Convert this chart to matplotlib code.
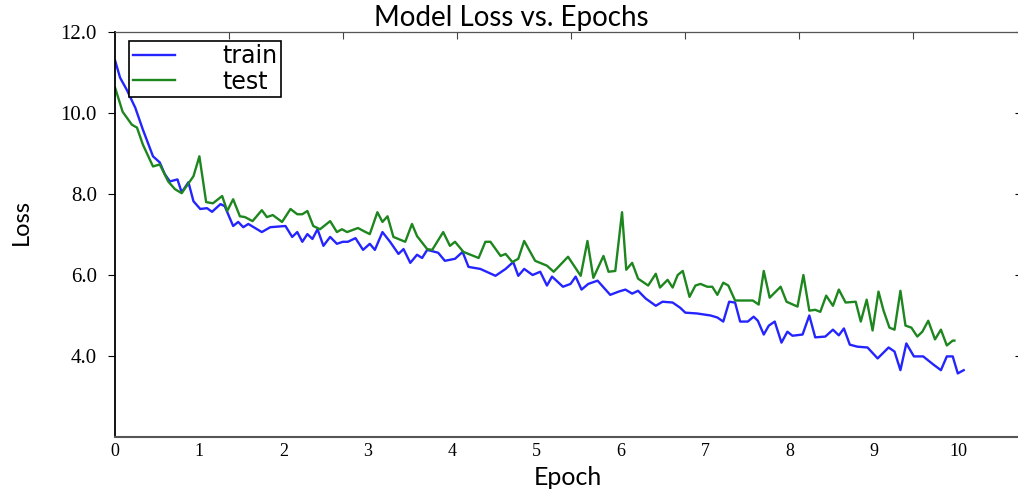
import numpy as np
import matplotlib
matplotlib.use("Agg")
import matplotlib.pyplot as plt

# epoch / loss
train_epoch = [0.0, 0.06, 0.14, 0.24, 0.33, 0.45, 0.53, 0.59, 0.65, 0.74, 0.79, 0.87, 0.93,
               1.01, 1.09, 1.15, 1.25, 1.30, 1.40, 1.46, 1.52, 1.58, 1.74, 1.84, 2.02, 2.10,
               2.16, 2.22, 2.28, 2.34, 2.40, 2.47, 2.55, 2.63, 2.70, 2.76, 2.85, 2.94, 3.02,
               3.08, 3.17, 3.26, 3.36, 3.42, 3.50, 3.58, 3.64, 3.70, 3.83, 3.91, 4.03, 4.12,
               4.19, 4.33, 4.51, 4.63, 4.72, 4.78, 4.85, 4.95, 5.04, 5.12, 5.18, 5.31, 5.40,
               5.46, 5.53, 5.61, 5.72, 5.87, 5.97, 6.05, 6.13, 6.20, 6.29, 6.41, 6.49, 6.61,
               6.70, 6.76, 6.90, 7.06, 7.14, 7.21, 7.28, 7.35, 7.41, 7.50, 7.57, 7.62, 7.69,
               7.75, 7.82, 7.90, 7.97, 8.03, 8.15, 8.23, 8.30, 8.42, 8.51, 8.58, 8.64, 8.71,
               8.80, 8.92, 9.04, 9.17, 9.24, 9.31, 9.38, 9.47, 9.58, 9.70, 9.79, 9.86, 9.93,
               9.99, 10.06]
train_loss = [11.3, 10.87, 10.57, 10.13, 9.59, 8.93, 8.78, 8.49, 8.31, 8.36, 8.04, 8.29, 7.82,
              7.63, 7.65, 7.56, 7.75, 7.70, 7.21, 7.31, 7.18, 7.26, 7.06, 7.18, 7.21, 6.94,
              7.06, 6.82, 7.01, 6.89, 7.13, 6.72, 6.94, 6.77, 6.82, 6.82, 6.91, 6.62, 6.77,
              6.62, 7.06, 6.82, 6.52, 6.64, 6.30, 6.50, 6.42, 6.62, 6.55, 6.35, 6.40, 6.57,
              6.20, 6.15, 5.98, 6.15, 6.32, 5.98, 6.15, 6.00, 6.08, 5.74, 5.96, 5.71, 5.78,
              5.96, 5.64, 5.78, 5.86, 5.51, 5.59, 5.64, 5.54, 5.61, 5.42, 5.24, 5.34, 5.32,
              5.19, 5.07, 5.05, 5.00, 4.95, 4.85, 5.34, 5.32, 4.85, 4.85, 4.97, 4.87, 4.53,
              4.75, 4.85, 4.33, 4.60, 4.50, 4.53, 5.00, 4.46, 4.48, 4.65, 4.51, 4.68, 4.28,
              4.23, 4.21, 3.94, 4.21, 4.11, 3.65, 4.31, 3.99, 3.99, 3.79, 3.65, 3.99, 3.99,
              3.57, 3.65]

test_epoch = [0.0, 0.09, 0.20, 0.26, 0.33, 0.45, 0.53, 0.63, 0.71, 0.79, 0.93, 1.00, 1.08,
              1.16, 1.27, 1.33, 1.40, 1.48, 1.54, 1.63, 1.74, 1.80, 1.87, 1.98, 2.08, 2.16,
              2.22, 2.28, 2.35, 2.43, 2.55, 2.63, 2.69, 2.75, 2.88, 2.97, 3.02, 3.11, 3.17,
              3.23, 3.30, 3.44, 3.52, 3.58, 3.70, 3.76, 3.89, 3.97, 4.03, 4.13, 4.31, 4.39,
              4.45, 4.57, 4.63, 4.71, 4.78, 4.85, 4.98, 5.12, 5.20, 5.37, 5.52, 5.60, 5.67,
              5.79, 5.85, 5.93, 6.01, 6.06, 6.13, 6.20, 6.32, 6.41, 6.46, 6.55, 6.61, 6.67,
              6.73, 6.81, 6.88, 6.94, 7.02, 7.08, 7.14, 7.21, 7.27, 7.35, 7.56, 7.63, 7.69,
              7.76, 7.89, 7.96, 8.09, 8.16, 8.23, 8.30, 8.36, 8.43, 8.51, 8.58, 8.66, 8.78,
              8.84, 8.91, 8.98, 9.05, 9.11, 9.18, 9.24, 9.31, 9.37, 9.44, 9.51, 9.57, 9.64,
              9.72, 9.79, 9.86, 9.93, 9.95]
test_loss = [10.63, 10.03, 9.71, 9.64, 9.22, 8.68, 8.73, 8.31, 8.12, 8.02, 8.44, 8.93, 7.80,
             7.77, 7.95, 7.58, 7.87, 7.45, 7.43, 7.33, 7.60, 7.43, 7.48, 7.31, 7.63, 7.50,
             7.50, 7.58, 7.21, 7.13, 7.33, 7.06, 7.13, 7.06, 7.16, 7.06, 7.01, 7.55, 7.31,
             7.45, 6.94, 6.82, 7.26, 6.96, 6.64, 6.62, 7.06, 6.72, 6.82, 6.57, 6.42, 6.82,
             6.82, 6.47, 6.52, 6.32, 6.40, 6.84, 6.35, 6.23, 6.08, 6.45, 5.98, 6.84, 5.93,
             6.47, 6.08, 6.10, 7.55, 6.13, 6.30, 5.91, 5.74, 6.03, 5.69, 5.88, 5.69, 6.00,
             6.10, 5.46, 5.74, 5.78, 5.71, 5.71, 5.51, 5.81, 5.74, 5.37, 5.37, 5.27, 6.10,
             5.44, 5.71, 5.34, 5.22, 6.00, 5.12, 5.14, 5.09, 5.49, 5.24, 5.64, 5.32, 5.34,
             4.85, 5.39, 4.63, 5.59, 5.12, 4.70, 4.65, 5.61, 4.75, 4.70, 4.48, 4.60, 4.87,
             4.41, 4.65, 4.26, 4.38, 4.38]

x_ticks = list(range(0, 11))
y_ticks = [4.0, 6.0, 8.0, 10.0, 12.0]

fig = plt.figure(figsize=(10.18, 4.93), dpi=100)
ax = fig.add_axes([0.113, 0.1136, 0.89, 0.8215])

ax.plot(train_epoch, train_loss, color="#2424ff", lw=1.7, label="train")
ax.plot(test_epoch, test_loss, color="#1e861e", lw=1.7, label="test")

ax.set_xlim(0, 10.74)
ax.set_ylim(2.0, 12.0)

ax.set_xticks(x_ticks)
ax.set_xticklabels([str(t) for t in x_ticks], family="Liberation Serif", fontsize=13)
ax.set_yticks(y_ticks)
ax.set_yticklabels([f"{t:.1f}" for t in y_ticks], family="Liberation Serif", fontsize=15)
ax.tick_params(axis="x", length=0, pad=4)
ax.tick_params(axis="y", direction="out", length=5, right=True, pad=8)
for t in ax.yaxis.get_major_ticks():
    t.tick2line.set_marker(matplotlib.lines.TICKLEFT)
    t.tick2line.set_markersize(4)
    t.tick2line.set_color("#888888")

# top ticks of the original axis, unlabeled
top = ax.secondary_xaxis("top")
top.set_xticks(np.arange(1, 8) * 1.352)
top.set_xticklabels([])
top.tick_params(direction="in", length=5, color="#444444")

for s in ["top", "bottom"]:
    ax.spines[s].set_color("#555555")
ax.spines["bottom"].set_linewidth(1.5)
ax.spines["left"].set_color("black")
ax.spines["left"].set_linewidth(1.3)

ax.set_title("Model Loss vs. Epochs", family="Lato", fontsize=20, pad=4, x=0.437)
ax.set_xlabel("Epoch", family="Lato", fontsize=18, labelpad=5)
ax.set_ylabel("Loss", family="Lato", fontsize=17, labelpad=22)
ax.yaxis.set_label_coords(-0.092, 0.53)

leg = ax.legend(loc="upper left", bbox_to_anchor=(0.0155, 0.978), fancybox=False,
                edgecolor="black", framealpha=1, fontsize=17, handlelength=1.8,
                handletextpad=2.0, borderpad=0.15, labelspacing=0.05, borderaxespad=0)
leg.get_frame().set_linewidth(1.2)
for txt in leg.get_texts():
    txt.set_family("DejaVu Sans")

fig.savefig("out.png", dpi=100)
